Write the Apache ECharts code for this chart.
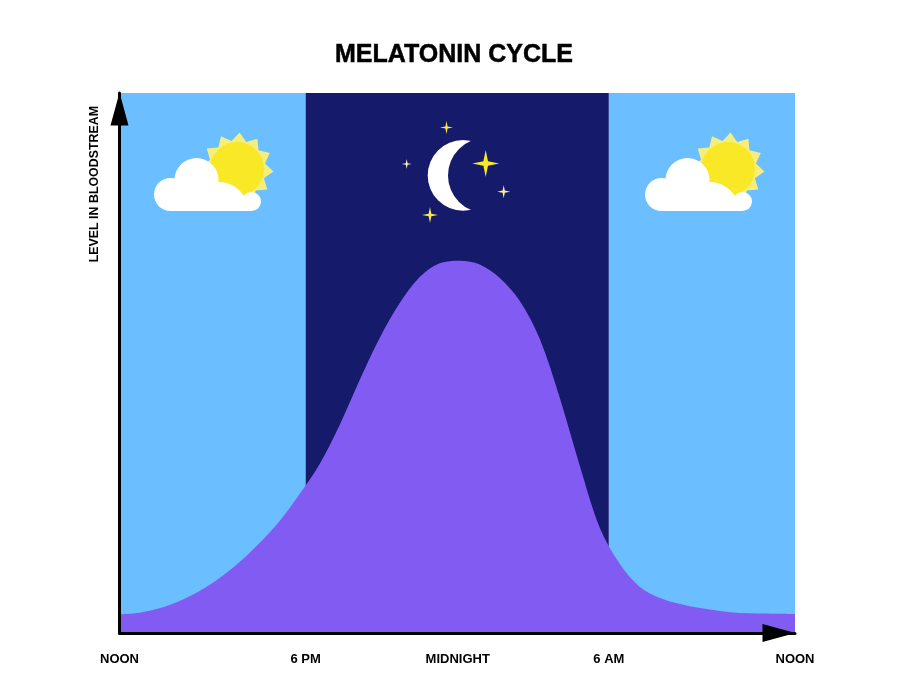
<!DOCTYPE html>
<html><head><meta charset="utf-8">
<style>html,body{margin:0;padding:0;background:#fff}#c{width:900px;height:689px}</style>
<script src="https://cdn.jsdelivr.net/npm/echarts@6/dist/echarts.min.js"></script>
</head><body><div id="c"></div>
<script>
// Time axis runs in read-off units (0 = left noon, 675 = right noon); level 0-540.
const tickLabels = ['NOON','6 PM','MIDNIGHT','6 AM','NOON'];
const tickPositions = [0,186,338,489,675];
const curveTime = [0,20,40,60,80,100,120,140,160,180,200,220,240,260,280,300,320,340,360,380,400,420,440,460,480,500,520,540,560,580,600,620,640,675];
const curveLevel = [18.7,20.3,24.7,32,42,55,71,90,112,139,169,208,253,295,330,356,369.7,372.3,368.5,355,332,294,235,167,105,69,46,35,29,25,22,20,19.5,19];
const dayColor='#6BBEFF', nightColor='#151A6B', curveColor='#825CF2';
const FONT='"Liberation Sans", Arial, sans-serif';

function starPts(cx,cy,a){const b=a*0.17;return [[cx,cy-a],[cx+b,cy-b],[cx+a,cy],[cx+b,cy+b],[cx,cy+a],[cx-b,cy+b],[cx-a,cy],[cx-b,cy-b]];}
function star(cx,cy,a,color){return {type:'polygon',z:25,silent:true,shape:{points:starPts(cx,cy,a)},style:{fill:color}};}
function sunCloud(dx){
  const cx=237+dx,cy=169,pts=[],n=12,ph=4*Math.PI/180;
  for(let i=0;i<n*2;i++){const r=i%2?28.5:36.5,t=ph+i*Math.PI/n;pts.push([cx+r*Math.cos(t),cy+r*Math.sin(t)]);}
  const w={fill:'#fff'};
  return [
    {type:'polygon',z:20,silent:true,shape:{points:pts},style:{fill:'#F6EE7C'}},
    {type:'circle',z:21,silent:true,shape:{cx:cx,cy:cy,r:27},style:{fill:'#F8E825'}},
    {type:'circle',z:22,silent:true,shape:{cx:196.5+dx,cy:180,r:22},style:w},
    {type:'circle',z:22,silent:true,shape:{cx:170.5+dx,cy:194.5,r:16.5},style:w},
    {type:'sector',z:22,silent:true,shape:{cx:219+dx,cy:211,r:29,r0:0,startAngle:Math.PI,endAngle:2*Math.PI,clockwise:true},style:w},
    {type:'circle',z:22,silent:true,shape:{cx:251.5+dx,cy:201.5,r:9.5},style:w},
    {type:'rect',z:22,silent:true,shape:{x:170+dx,y:198,width:81,height:13},style:w}
  ];
}
const option={
  animation:false,
  backgroundColor:'#fff',
  title:{text:'MELATONIN CYCLE',left:330,top:38,
    textStyle:{fontFamily:FONT,fontSize:25,fontWeight:'bold',color:'#000',textBorderColor:'#000',textBorderWidth:0.5}},
  grid:{left:119.5,right:105,top:93,bottom:56},
  xAxis:{type:'value',min:0,max:675,z:10,splitLine:{show:false},
    axisLine:{show:true,onZero:false,lineStyle:{color:'#000',width:3},symbol:['none','triangle'],symbolSize:[18,33],symbolOffset:[0,-16]},
    axisTick:{show:false},
    axisLabel:{customValues:tickPositions,margin:20,showMinLabel:true,showMaxLabel:true,
      formatter:v=>tickLabels[tickPositions.indexOf(v)],
      fontFamily:FONT,fontSize:13,fontWeight:'bold',color:'#000',hideOverlap:false}},
  yAxis:{type:'value',min:0,max:540,z:10,splitLine:{show:false},
    name:'LEVEL IN BLOODSTREAM',nameLocation:'end',nameRotate:90,nameGap:-13,
    nameTextStyle:{fontFamily:FONT,fontSize:12.4,fontWeight:'bold',color:'#000',align:'right',verticalAlign:'bottom',padding:[0,0,19,0]},
    axisLine:{show:true,onZero:false,lineStyle:{color:'#000',width:3},symbol:['none','triangle'],symbolSize:[18,33],symbolOffset:[0,-16]},
    axisTick:{show:false},axisLabel:{show:false}},
  series:[
    {type:'line',z:1,silent:true,data:[],markArea:{silent:true,data:[
      [{xAxis:tickPositions[0],yAxis:0,itemStyle:{color:dayColor}},{xAxis:tickPositions[1],yAxis:540}],
      [{xAxis:tickPositions[1],yAxis:0,itemStyle:{color:nightColor}},{xAxis:tickPositions[3],yAxis:540}],
      [{xAxis:tickPositions[3],yAxis:0,itemStyle:{color:dayColor}},{xAxis:tickPositions[4],yAxis:540}]
    ]}},
    {type:'line',z:3,silent:true,smooth:0.33,showSymbol:false,
      data:curveTime.map((t,i)=>[t,curveLevel[i]]),
      lineStyle:{width:0},areaStyle:{color:curveColor,opacity:1}}
  ],
  graphic:[].concat(
    sunCloud(0),
    sunCloud(491),
    [{type:'circle',z:20,silent:true,shape:{cx:463,cy:175.4,r:35.3},style:{fill:'#fff'}},
     {type:'circle',z:21,silent:true,shape:{cx:485.5,cy:175.4,r:37.5},style:{fill:nightColor}},
     star(485.7,163.5,13.5,'#F8E825'),
     star(446.5,127.5,6.5,'#F8E84A'),
     star(406.7,164,5,'#FBF6C0'),
     star(503.7,191.7,6.5,'#FBF08A'),
     star(430,215,8,'#F8E84A')]
  )
};
echarts.init(document.getElementById('c'),null,{renderer:'canvas'}).setOption(option);
</script></body></html>
